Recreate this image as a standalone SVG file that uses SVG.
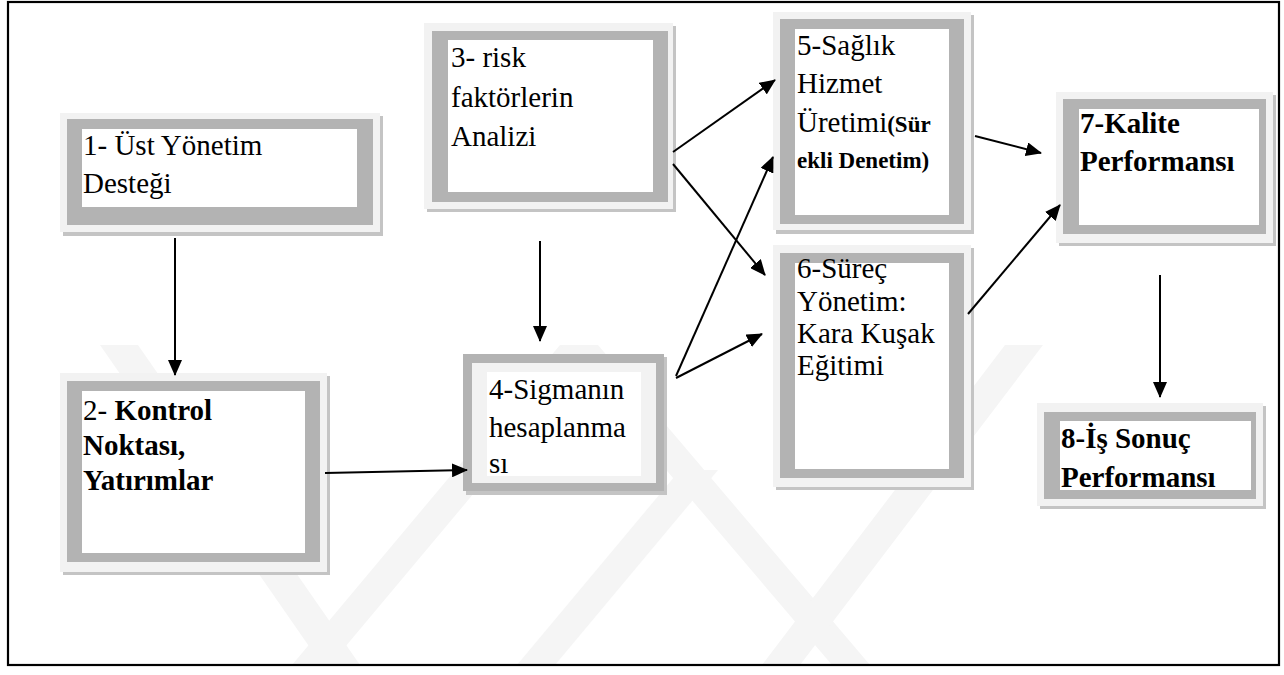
<svg xmlns="http://www.w3.org/2000/svg" width="1284" height="675" viewBox="0 0 1284 675">
  <defs>
    <style>
      .frame { fill: none; stroke: #000; stroke-width: 2.2; }
      .wm { fill: #f5f5f5; }
      .shadow { fill: #c4c4c4; }
      .outer { fill: #f2f2f2; }
      .band { fill: #b3b3b3; }
      .inner { fill: #ffffff; }
      .txt { font-size: 29px; fill: #000; }
      .b { font-weight: bold; }
      .sm { font-size: 23px; }
      .link { fill: none; stroke: #000; stroke-width: 2; marker-end: url(#arrow); }
    </style>
    <marker id="arrow" markerUnits="userSpaceOnUse" markerWidth="16" markerHeight="14" refX="15" refY="7" orient="auto">
      <path d="M0,0 L16,7 L0,14 z" fill="#000"/>
    </marker>
  </defs>

  <rect width="1284" height="675" fill="#fff"/>

  <!-- faint background emblem -->
  <g id="watermark">
    <polygon class="wm" points="100,345 138,345 360,665 322,665"/>
    <polygon class="wm" points="560,345 598,345 330,665 292,665"/>
    <polygon class="wm" points="560,345 598,345 870,665 832,665"/>
    <polygon class="wm" points="1005,345 1043,345 800,665 762,665"/>
    <polygon class="wm" points="680,470 718,470 555,665 517,665"/>
  </g>

  <rect class="frame" x="8" y="2" width="1271" height="663"/>

  <g font-family="'Liberation Serif', 'DejaVu Serif', serif">
  <!-- node 1 -->
  <g id="n1">
    <rect class="shadow" x="63" y="116" width="320" height="120"/>
    <rect class="outer" x="60" y="113" width="320" height="119"/>
    <rect class="band" x="67" y="119" width="306" height="106"/>
    <rect class="inner" x="82" y="129" width="275" height="78"/>
    <text class="txt" x="83" y="155">1- Üst Yönetim</text>
    <text class="txt" x="83" y="193">Desteği</text>
  </g>

  <!-- node 2 -->
  <g id="n2">
    <rect class="shadow" x="63" y="376" width="267" height="199"/>
    <rect class="outer" x="60" y="373" width="267" height="199"/>
    <rect class="band" x="67" y="381" width="253" height="181"/>
    <rect class="inner" x="82" y="391" width="223" height="162"/>
    <text class="txt" x="83" y="420">2- <tspan class="b">Kontrol</tspan></text>
    <text class="txt b" x="83" y="455">Noktası,</text>
    <text class="txt b" x="83" y="490">Yatırımlar</text>
  </g>

  <!-- node 3 -->
  <g id="n3">
    <rect class="shadow" x="427" y="26" width="249" height="186"/>
    <rect class="outer" x="424" y="23" width="249" height="186"/>
    <rect class="band" x="432" y="31" width="236" height="171"/>
    <rect class="inner" x="448" y="40" width="205" height="152"/>
    <text class="txt" x="451" y="67">3- risk</text>
    <text class="txt" x="451" y="107">faktörlerin</text>
    <text class="txt" x="451" y="146">Analizi</text>
  </g>

  <!-- node 4 -->
  <g id="n4">
    <rect class="shadow" x="466" y="357" width="201" height="138"/>
    <rect class="band" x="463" y="354" width="201" height="137"/>
    <rect class="outer" x="472" y="363" width="184" height="120"/>
    <rect class="inner" x="487" y="372" width="154" height="104"/>
    <text class="txt" x="489" y="399">4-Sigmanın</text>
    <text class="txt" x="489" y="437">hesaplanma</text>
    <text class="txt" x="489" y="473">sı</text>
  </g>

  <!-- node 5 -->
  <g id="n5">
    <rect class="shadow" x="776" y="15" width="198" height="219"/>
    <rect class="outer" x="773" y="12" width="198" height="218"/>
    <rect class="band" x="780" y="19" width="184" height="205"/>
    <rect class="inner" x="795" y="29" width="154" height="186"/>
    <text class="txt" x="797" y="55">5-Sağlık</text>
    <text class="txt" x="797" y="93">Hizmet</text>
    <text class="txt" x="797" y="132">Üretimi<tspan class="b sm">(Sür</tspan></text>
    <text class="txt b sm" x="797" y="168">ekli Denetim)</text>
  </g>

  <!-- node 6 -->
  <g id="n6">
    <rect class="shadow" x="776" y="248" width="198" height="242"/>
    <rect class="outer" x="773" y="245" width="198" height="242"/>
    <rect class="band" x="780" y="253" width="184" height="225"/>
    <rect class="inner" x="795" y="263" width="154" height="206"/>
    <text class="txt" x="797" y="278">6-Süreç</text>
    <text class="txt" x="797" y="311">Yönetim:</text>
    <text class="txt" x="797" y="343">Kara Kuşak</text>
    <text class="txt" x="797" y="375">Eğitimi</text>
  </g>

  <!-- node 7 -->
  <g id="n7">
    <rect class="shadow" x="1059" y="95" width="217" height="151"/>
    <rect class="outer" x="1056" y="92" width="217" height="151"/>
    <rect class="band" x="1063" y="99" width="203" height="135"/>
    <rect class="inner" x="1079" y="109" width="180" height="116"/>
    <text class="txt b" x="1080" y="133">7-Kalite</text>
    <text class="txt b" x="1080" y="171">Performansı</text>
  </g>

  <!-- node 8 -->
  <g id="n8">
    <rect class="shadow" x="1040" y="406" width="226" height="103"/>
    <rect class="outer" x="1037" y="403" width="226" height="103"/>
    <rect class="band" x="1044" y="412" width="212" height="87"/>
    <rect class="inner" x="1060" y="421" width="191" height="69"/>
    <text class="txt b" x="1061" y="448">8-İş Sonuç</text>
    <text class="txt b" x="1061" y="487">Performansı</text>
  </g>
  </g>

  <!-- connectors -->
  <g id="connectors">
    <line class="link" x1="175" y1="238" x2="175" y2="375"/>
    <line class="link" x1="540" y1="241" x2="540" y2="341"/>
    <line class="link" x1="325" y1="473" x2="467" y2="470"/>
    <line class="link" x1="673" y1="152" x2="775" y2="80"/>
    <line class="link" x1="673" y1="164" x2="765" y2="275"/>
    <line class="link" x1="676" y1="376" x2="773" y2="157"/>
    <line class="link" x1="676" y1="378" x2="762" y2="334"/>
    <line class="link" x1="975" y1="136" x2="1041" y2="153"/>
    <line class="link" x1="968" y1="314" x2="1060" y2="205"/>
    <line class="link" x1="1160" y1="275" x2="1160" y2="397"/>
  </g>
</svg>
